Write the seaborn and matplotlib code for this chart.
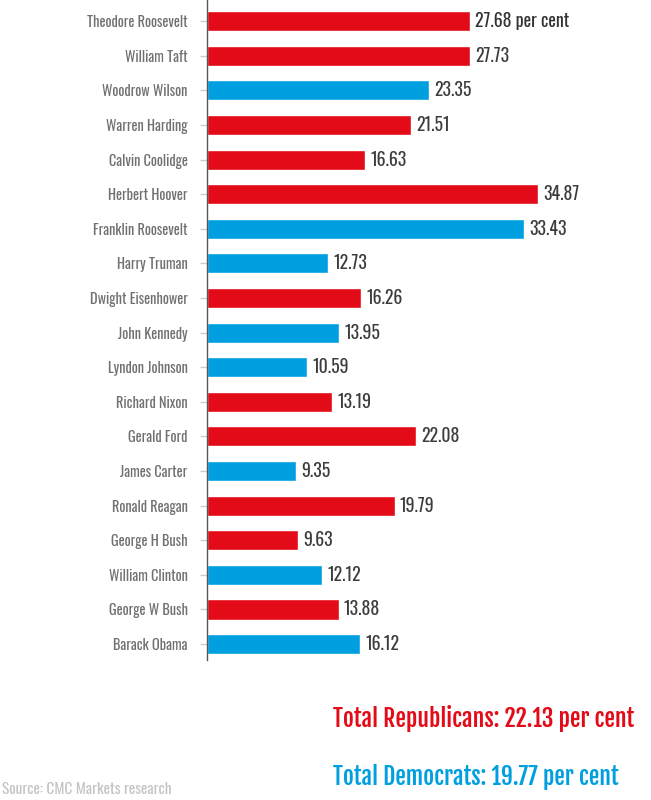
import numpy as np
import pandas as pd
import seaborn as sns
import matplotlib.pyplot as plt

presidents = ["Theodore Roosevelt", "William Taft", "Woodrow Wilson", "Warren Harding",
              "Calvin Coolidge", "Herbert Hoover", "Franklin Roosevelt", "Harry Truman",
              "Dwight Eisenhower", "John Kennedy", "Lyndon Johnson", "Richard Nixon",
              "Gerald Ford", "James Carter", "Ronald Reagan", "George H Bush",
              "William Clinton", "George W Bush", "Barack Obama"]
values = [27.68, 27.73, 23.35, 21.51, 16.63, 34.87, 33.43, 12.73, 16.26, 13.95,
          10.59, 13.19, 22.08, 9.35, 19.79, 9.63, 12.12, 13.88, 16.12]
party = ["R", "R", "D", "R", "R", "R", "D", "D", "R", "D",
         "D", "R", "R", "D", "R", "R", "D", "R", "D"]
value_labels = ["27.68 per cent"] + [f"{v:.2f}" for v in values[1:]]

red = "#E30B17"
blue = "#009FE0"

df = pd.DataFrame({"president": presidents, "value": values, "party": party})

sns.set_style("white")
plt.rcParams['font.family'] = ['Oswald', 'DejaVu Sans']

fig = plt.figure(figsize=(6.51, 8), dpi=100)
ax = fig.add_axes([0.318, 0.175, 0.682, 0.825])

sns.barplot(data=df, y="president", x="value", hue="party", palette={"R": red, "D": blue},
            dodge=False, width=0.58, orient="h", legend=False, ax=ax, saturation=1)

ax.set_xlim(0, 46.8)
ax.set_ylim(18.46, -0.61)
ax.set_xlabel("")
ax.set_ylabel("")
ax.set_xticks([])
for s in ["top", "right", "bottom"]:
    ax.spines[s].set_visible(False)
ax.spines["left"].set_color("#555555")
ax.spines["left"].set_linewidth(1)
ax.tick_params(axis="y", length=5, width=1, color="#cccccc", pad=9,
               labelsize=10.3, labelcolor="#707070", left=True)
for t in ax.get_yticklabels():
    t.set_fontweight(300)

# value labels, first one bolder
for i, (v, lab) in enumerate(zip(values, value_labels)):
    ax.text(v + 0.55, i, lab, va="center", ha="left", fontsize=12.8,
            color="#333333" if i == 0 else "#3c3c3c",
            fontweight=600 if i == 0 else 400)

totals_font = ['Fjalla One', 'Oswald', 'DejaVu Sans']
fig.text(333 / 651, 1 - 718 / 800, "Total Republicans: 22.13 per cent", color=red,
         fontsize=17, family=totals_font, va="center", ha="left")
fig.text(333 / 651, 1 - 777 / 800, "Total Democrats: 19.77 per cent", color=blue,
         fontsize=17, family=totals_font, va="center", ha="left")
fig.text(2 / 651, 1 - 789 / 800, "Source: CMC Markets research", color="#c4c4c4",
         fontsize=11, va="center", ha="left")

fig.savefig("out.png", dpi=100)
